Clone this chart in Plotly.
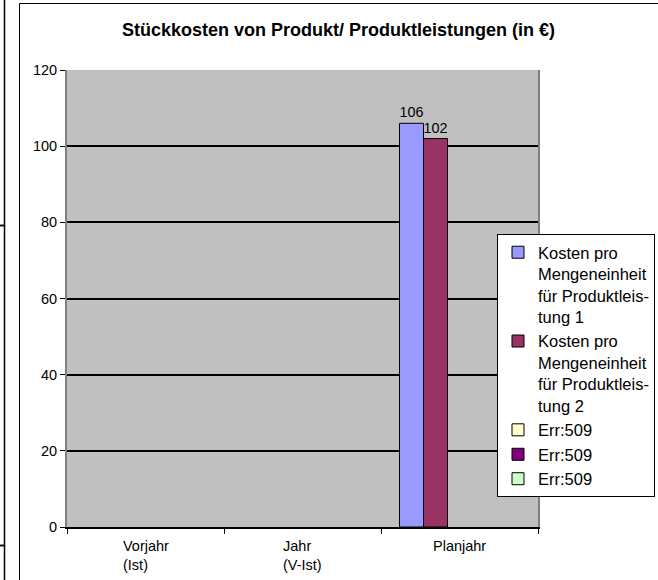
import plotly.graph_objects as go

# Kategorien und Werte
kategorien = ["Vorjahr (Ist)", "Jahr (V-Ist)", "Planjahr"]
kategorie_label = ["Vorjahr<br>(Ist)", "Jahr<br>(V-Ist)", "Planjahr"]
serien_namen = [
    "Kosten pro<br>Mengeneinheit<br>für Produktleis-<br>tung 1",
    "Kosten pro<br>Mengeneinheit<br>für Produktleis-<br>tung 2",
    "Err:509",
    "Err:509",
    "Err:509",
]
kosten_1 = [None, None, 106]
kosten_2 = [None, None, 102]
err_1 = [None, None, None]
err_2 = [None, None, None]
err_3 = [None, None, None]
farben = ["#9999FF", "#993366", "#FFFFCC", "#800080", "#CCFFCC"]

FONT = "Liberation Sans, Arial, sans-serif"
W, H = 658, 580
L, R, T, B = 67, 120, 70, 53


def px_x(x):
    return (x - L) / (W - L - R)


def px_y(y):
    return (H - B - y) / (H - T - B)


fig = go.Figure()
for name, werte, farbe in zip(
    serien_namen, [kosten_1, kosten_2, err_1, err_2, err_3], farben
):
    fig.add_trace(
        go.Bar(
            x=kategorien,
            y=werte,
            name=name,
            marker=dict(color=farbe, line=dict(color="black", width=1)),
            text=[("" if v is None else str(v)) for v in werte],
            textposition="outside",
            textfont=dict(family=FONT, size=14.5, color="black"),
            cliponaxis=False,
        )
    )

# Kategoriebeschriftungen (linksbündig, mehrzeilig)
for kat, label in zip(kategorien, kategorie_label):
    fig.add_annotation(
        x=kat, xref="x", y=0, yref="paper", yanchor="top", yshift=-9,
        text=label, showarrow=False, align="left",
        font=dict(family=FONT, size=14.5, color="black"),
    )

# Rahmen und Reste der Nachbardiagramme
fig.add_shape(type="rect", xref="paper", yref="paper",
              x0=px_x(19.5), x1=px_x(720), y0=px_y(3.5), y1=px_y(640),
              line=dict(color="black", width=1), layer="below")
# linker Nachbarrahmen: Kasten mit Ober-/Unterkante bei 225 bzw. 545
fig.add_shape(type="rect", xref="paper", yref="paper",
              x0=px_x(-30), x1=px_x(4.5), y0=px_y(225.5), y1=px_y(545.5),
              line=dict(color="black", width=1.5), layer="below")
fig.add_shape(type="rect", xref="paper", yref="paper",
              x0=px_x(-30), x1=px_x(4.5), y0=px_y(-30), y1=px_y(225.5),
              line=dict(color="black", width=1.5), layer="below")
fig.add_shape(type="rect", xref="paper", yref="paper",
              x0=px_x(-30), x1=px_x(4.5), y0=px_y(545.5), y1=px_y(620),
              line=dict(color="black", width=1.5), layer="below")

fig.update_layout(
    width=W,
    height=H,
    margin=dict(l=L, r=R, t=T, b=B, autoexpand=False),
    paper_bgcolor="white",
    plot_bgcolor="#C0C0C0",
    font=dict(family=FONT, size=14.5, color="black"),
    title=dict(
        text="<b>Stückkosten von Produkt/ Produktleistungen (in €)</b>",
        x=338.5 / W, xanchor="center", y=1 - 30 / H, yanchor="middle",
        xref="container", yref="container",
        font=dict(family=FONT, size=18, color="black"),
    ),
    barmode="group",
    bargap=0.236,
    bargroupgap=0,
    showlegend=True,
    legend=dict(
        x=px_x(497), y=px_y(234), xanchor="left", yanchor="top",
        bgcolor="white", bordercolor="black", borderwidth=1,
        font=dict(family=FONT, size=16.5, color="black"),
        valign="top", tracegroupgap=0, itemwidth=30,
    ),
    xaxis=dict(
        showticklabels=False,
        tickson="boundaries", ticks="outside", ticklen=5, tickcolor="black",
        showline=True, linecolor="black", linewidth=2,
        showgrid=False,
    ),
    yaxis=dict(
        range=[0, 120], dtick=20,
        ticks="outside", ticklen=5, tickcolor="black",
        showgrid=True, gridcolor="black", gridwidth=1.5,
        showline=True, linecolor="#808080", linewidth=2, mirror=True,
        zeroline=False,
        tickfont=dict(family=FONT, size=14.5, color="black"),
    ),
)

# Seitenrand des Browsers entfernen, damit die Grafik bei (0,0) beginnt
fig.write_html(
    "out.html",
    config={"displayModeBar": False},
    post_script="document.body.style.margin='0';",
)
